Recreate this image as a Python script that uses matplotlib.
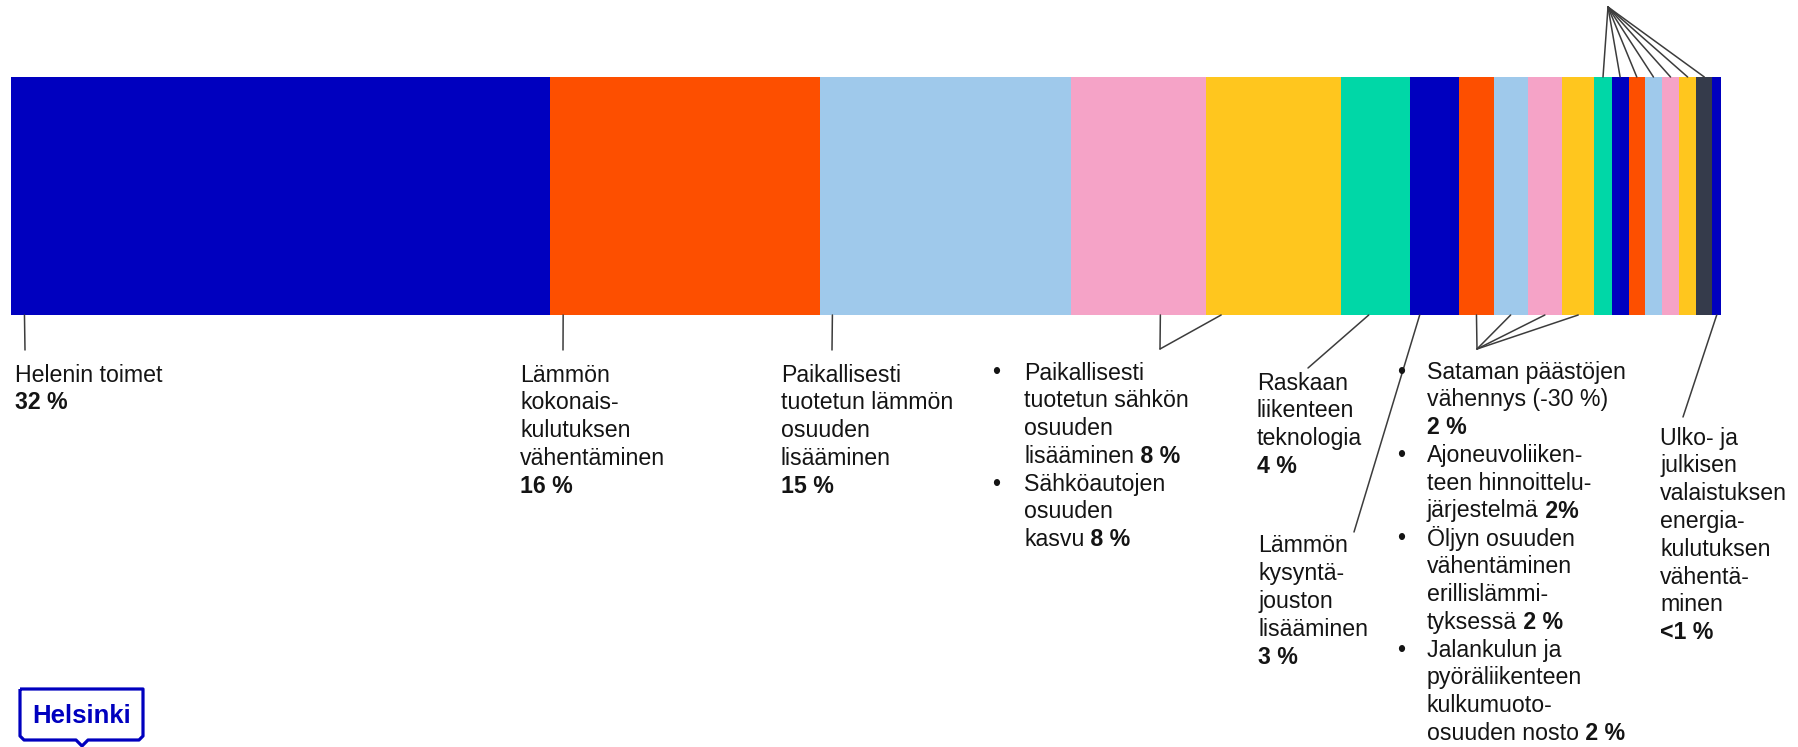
import matplotlib.pyplot as plt
from matplotlib.patches import PathPatch
from matplotlib.path import Path
import numpy as np

plt.rcParams['font.family'] = ['Liberation Sans', 'DejaVu Sans']

W, H = 1798, 747

# segmenttien osuudet (%) vasemmalta oikealle
shares = [31.5, 15.8, 14.7, 7.9, 7.9, 4.0, 2.9, 2.0, 2.0, 2.0, 1.9,
          1.0, 1.0, 0.95, 1.0, 1.0, 1.0, 0.95, 0.5]
blue, orange, lblue, pink, yellow, teal, dark = ('#0000bf', '#fd4f00', '#9fc9eb',
                                                 '#f5a3c7', '#ffc61e', '#00d7a7', '#353b4b')
colors = [blue, orange, lblue, pink, yellow, teal,
          blue, orange, lblue, pink, yellow,
          teal, blue, orange, lblue, pink, yellow, dark, blue]

# tekstilohkot: rivit (normaali, lihavoitu)
helen_lines = [("Helenin toimet", ""), ("", "32 %")]
kulutus_lines = [("Lämmön", ""), ("kokonais-", ""), ("kulutuksen", ""),
                 ("vähentäminen", ""), ("", "16 %")]
lampo_lines = [("Paikallisesti", ""), ("tuotetun lämmön", ""), ("osuuden", ""),
               ("lisääminen", ""), ("", "15 %")]
sahko_lines = [("Paikallisesti", ""), ("tuotetun sähkön", ""), ("osuuden", ""),
               ("lisääminen", "8 %"), ("Sähköautojen", ""), ("osuuden", ""),
               ("kasvu", "8 %")]
raskas_lines = [("Raskaan", ""), ("liikenteen", ""), ("teknologia", ""), ("", "4 %")]
jousto_lines = [("Lämmön", ""), ("kysyntä-", ""), ("jouston", ""),
                ("lisääminen", ""), ("", "3 %")]
satama_lines = [("Sataman päästöjen", ""), ("vähennys (-30 %)", ""), ("", "2 %"),
                ("Ajoneuvoliiken-", ""), ("teen hinnoittelu-", ""), ("järjestelmä", "2%"),
                ("Öljyn osuuden", ""), ("vähentäminen", ""), ("erillislämmi-", ""),
                ("tyksessä", "2 %"), ("Jalankulun ja", ""), ("pyöräliikenteen", ""),
                ("kulkumuoto-", ""), ("osuuden nosto", "2 %")]
ulko_lines = [("Ulko- ja", ""), ("julkisen", ""), ("valaistuksen", ""), ("energia-", ""),
              ("kulutuksen", ""), ("vähentä-", ""), ("minen", ""), ("", "<1 %")]

FS = 16.7
TXT = '#141414'
LINE = '#3c3c3c'

fig = plt.figure(figsize=(W / 100, H / 100), dpi=100)
ax = fig.add_axes([11 / W, 1 - 315 / H, 1710 / W, 238 / H])
lefts = np.concatenate([[0], np.cumsum(shares)[:-1]])
ax.barh(0.5, shares, left=lefts, height=1.0, color=colors, linewidth=0)
ax.set_xlim(0, sum(shares))
ax.set_ylim(0, 1)
ax.axis('off')


def seg_x(i, frac=0.5):
    return lefts[i] + shares[i] * frac


def leader(i, frac, px, py, top=False):
    ax.annotate('', xy=(seg_x(i, frac), 1 if top else 0), xycoords='data',
                xytext=(px, H - py), textcoords='figure pixels',
                arrowprops=dict(arrowstyle='-', color=LINE, lw=1.1,
                                shrinkA=0, shrinkB=0))


def block(x, y0, lines, bullets=(), bx=None, pitch=27.8):
    for k, (norm, bold) in enumerate(lines):
        y = 1 - (y0 + k * pitch) / H
        if k in bullets:
            fig.text(bx / W, y, '•', fontsize=FS, color=TXT, va='center', ha='left')
        if norm:
            t = fig.text(x / W, y, norm, fontsize=FS, color=TXT, va='center', ha='left')
            if bold:
                ax.annotate(' ' + bold, xy=(1, 0), xycoords=t, va='bottom', ha='left',
                            fontsize=FS, fontweight='bold', color=TXT)
        else:
            fig.text(x / W, y, bold, fontsize=FS, fontweight='bold', color=TXT,
                     va='center', ha='left')


# johtoviivat
leader(0, 0.025, 25, 350)
leader(1, 0.05, 563, 350)
leader(2, 0.05, 832, 350)
leader(3, 0.66, 1160, 349)
leader(4, 0.11, 1160, 349)
leader(5, 0.4, 1308, 368)
leader(6, 0.2, 1354, 532)
for i in (7, 8, 9, 10):
    leader(i, 0.5, 1477, 349)
for i in range(11, 18):
    leader(i, 0.5, 1608, 7, top=True)
leader(18, 0.5, 1683, 417)

# tekstit
block(15, 375, helen_lines)
block(520, 375, kulutus_lines)
block(781, 375, lampo_lines)
block(1024, 373, sahko_lines, bullets=(0, 4), bx=992)
block(1257, 383, raskas_lines)
block(1258, 546, jousto_lines)
block(1427, 372, satama_lines, bullets=(0, 3, 6, 10), bx=1397)
block(1660, 438, ulko_lines)

# Helsinki-logo
x0, x1, yt, yb = 20, 143, 689, 740
pts = [(x0, yt), (x1, yt), (x1, yb - 4), (x1 - 4, yb), (88, yb), (82, yb + 6),
       (76, yb), (x0 + 4, yb), (x0, yb - 4), (x0, yt)]
verts = [(px / W, 1 - py / H) for px, py in pts]
logo = PathPatch(Path(verts), transform=fig.transFigure, facecolor='none',
                 edgecolor=blue, lw=2.3, joinstyle='round')
fig.patches.append(logo)
fig.text(82 / W, 1 - 716 / H, 'Helsinki', fontsize=18.5, fontweight='bold',
         color=blue, ha='center', va='center')

fig.savefig('out.png', dpi=100, facecolor='white')
